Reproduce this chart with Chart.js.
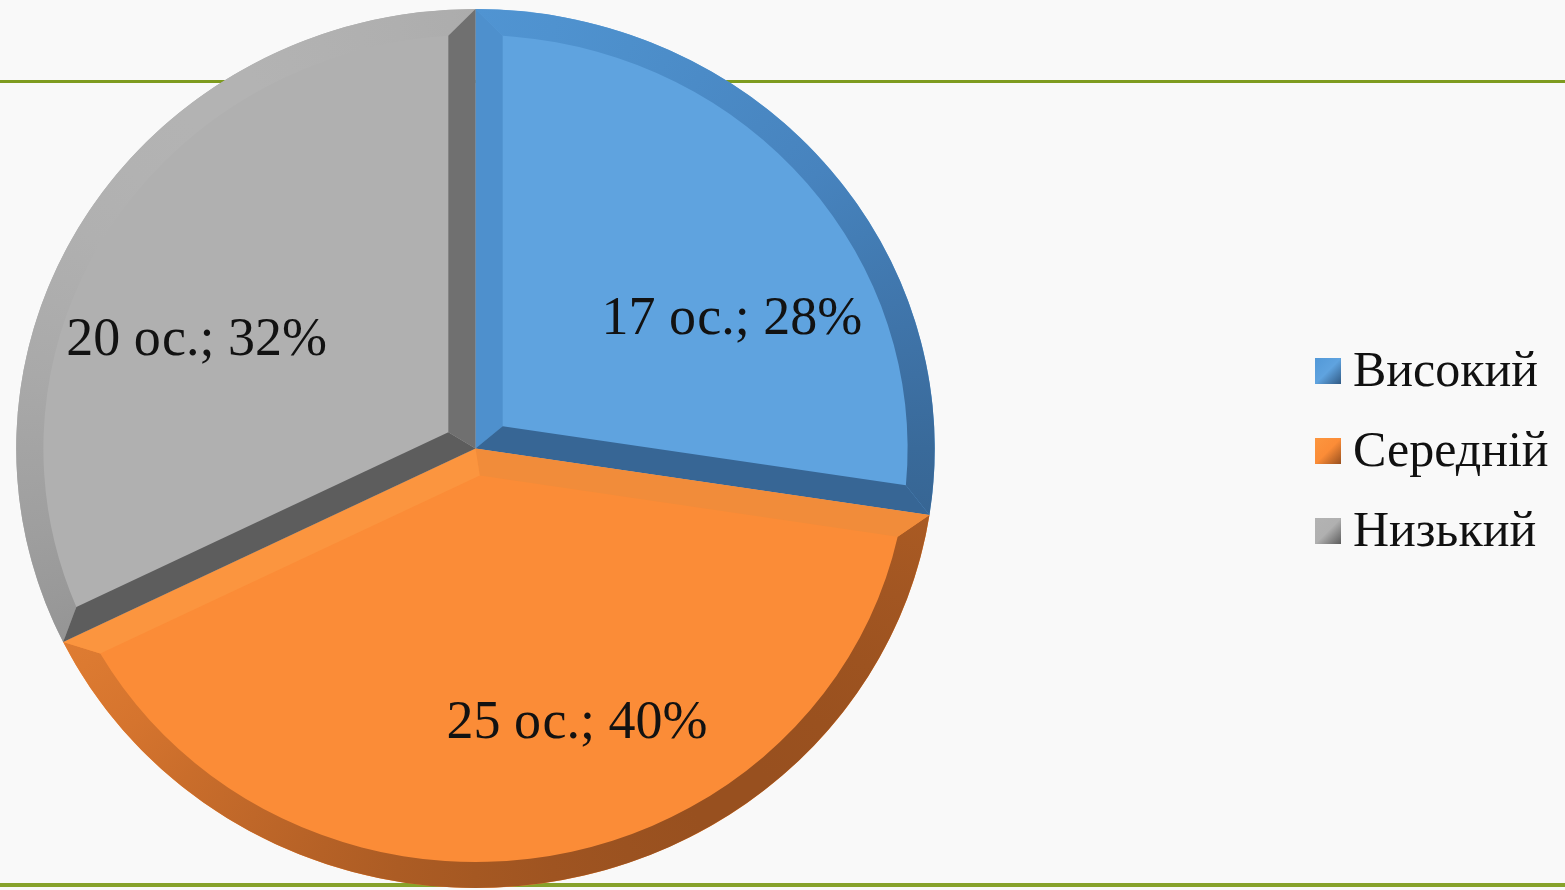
<!DOCTYPE html>
<html>
<head>
<meta charset="utf-8">
<script src="https://cdn.jsdelivr.net/npm/chart.js@4.4.0/dist/chart.umd.min.js"></script>
<style>
  html, body { margin: 0; padding: 0; background: #f9f9f9; }
  #wrap { width: 1565px; height: 890px; }
</style>
</head>
<body>
<div id="wrap"><canvas id="levelChart"></canvas></div>
<script>
// data
const levels = ["Високий", "Середній", "Низький"];
const persons = [17, 25, 20];
const percentLabels = ["28%", "40%", "32%"];
const unit = "ос.";

// face colour and bevel shades (light side, middle, dark side) per slice
const faceColours = ["#5fa3df", "#fb8c37", "#b0b0b0"];
const bevelLight = ["#5399d8", "#fc963f", "#b3b3b3"];
const bevelMid = ["#4682bc", "#d8762f", "#8e8e8e"];
const bevelDark = ["#315a84", "#98501f", "#5c5c5c"];

function hexToRgb(hex) {
  const n = parseInt(hex.slice(1), 16);
  return [(n >> 16) & 255, (n >> 8) & 255, n & 255];
}

function mix(a, b, t) {
  const ca = hexToRgb(a);
  const cb = hexToRgb(b);
  const c = ca.map((v, k) => Math.round(v + (cb[k] - v) * t));
  return `rgb(${c[0]}, ${c[1]}, ${c[2]})`;
}

// light comes from the top left
const light = { x: -0.6, y: -0.8 };

function shade(i, normalAngle) {
  const s = Math.cos(normalAngle) * light.x + Math.sin(normalAngle) * light.y;
  return s >= 0 ? mix(bevelMid[i], bevelLight[i], s) : mix(bevelMid[i], bevelDark[i], -s);
}

const bevelPlugin = {
  id: "bevel",
  beforeDraw(chart) {
    // page background and the two green rules
    const ctx = chart.ctx;
    ctx.save();
    ctx.fillStyle = "#f9f9f9";
    ctx.fillRect(0, 0, chart.width, chart.height);
    ctx.fillStyle = "#7e9b1f";
    ctx.fillRect(0, 80, chart.width, 3);
    ctx.fillStyle = "#86a22b";
    ctx.fillRect(0, 883, chart.width, 4);
    ctx.restore();
  },
  beforeDatasetsDraw(chart, args, opts) {
    const arc = chart.getDatasetMeta(0).data[0];
    const ctx = chart.ctx;
    ctx.save();
    ctx.translate(arc.x, arc.y);
    ctx.scale(opts.stretch, 1);
    ctx.translate(-arc.x, -arc.y);
  },
  afterDatasetsDraw(chart, args, opts) {
    const ctx = chart.ctx;
    const d = opts.depth;
    chart.getDatasetMeta(0).data.forEach((arc, i) => {
      const { x, y, startAngle, endAngle, outerRadius } = arc.getProps(
        ["x", "y", "startAngle", "endAngle", "outerRadius"], true);
      const a0 = startAngle;
      const a1 = endAngle;
      const R = outerRadius;
      const rho = R - d;
      const delta = Math.asin(d / rho);
      const half = (a1 - a0) / 2;
      const apexDist = d / Math.sin(half);
      const pt = (r, a) => [x + r * Math.cos(a), y + r * Math.sin(a)];
      const apex = pt(apexDist, a0 + half);

      // outer rim, shaded by angle
      const grad = ctx.createConicGradient(0, x, y);
      for (let k = 0; k <= 36; k++) {
        const th = (k / 36) * Math.PI * 2;
        grad.addColorStop(k / 36, shade(i, th));
      }
      ctx.beginPath();
      ctx.arc(x, y, R, a0, a1);
      ctx.lineTo(...pt(rho, a1 - delta));
      ctx.arc(x, y, rho, a1 - delta, a0 + delta, true);
      ctx.closePath();
      ctx.fillStyle = grad;
      ctx.fill();

      // start edge
      ctx.beginPath();
      ctx.moveTo(x, y);
      ctx.lineTo(...pt(R, a0));
      ctx.lineTo(...pt(rho, a0 + delta));
      ctx.lineTo(...apex);
      ctx.closePath();
      ctx.fillStyle = shade(i, a0 - Math.PI / 2);
      ctx.fill();

      // end edge
      ctx.beginPath();
      ctx.moveTo(x, y);
      ctx.lineTo(...apex);
      ctx.lineTo(...pt(rho, a1 - delta));
      ctx.lineTo(...pt(R, a1));
      ctx.closePath();
      ctx.fillStyle = shade(i, a1 + Math.PI / 2);
      ctx.fill();
    });
    ctx.restore();
  },
  afterDraw(chart, args, opts) {
    const ctx = chart.ctx;
    ctx.save();
    // value labels inside the slices
    ctx.font = "54px 'Liberation Serif', 'Times New Roman', serif";
    ctx.fillStyle = "#121212";
    ctx.textAlign = "center";
    ctx.textBaseline = "middle";
    chart.getDatasetMeta(0).data.forEach((arc, i) => {
      const { x, y, startAngle, endAngle, outerRadius } = arc.getProps(
        ["x", "y", "startAngle", "endAngle", "outerRadius"], true);
      const a = (startAngle + endAngle) / 2 + (opts.labelShift[i] * Math.PI) / 180;
      const r = outerRadius * opts.labelRadius[i];
      const px = x + r * Math.cos(a) * opts.stretch;
      const py = y + r * Math.sin(a);
      ctx.fillText(`${persons[i]} ${unit}; ${percentLabels[i]}`, px, py);
    });

    // legend on the right
    ctx.textAlign = "left";
    ctx.font = "50px 'Liberation Serif', 'Times New Roman', serif";
    levels.forEach((name, i) => {
      const cy = opts.legendTop + i * opts.legendStep;
      const bx = opts.legendLeft;
      const g = ctx.createLinearGradient(bx, cy - 13, bx + 26, cy + 13);
      g.addColorStop(0, bevelLight[i]);
      g.addColorStop(0.5, faceColours[i]);
      g.addColorStop(1, bevelDark[i]);
      ctx.fillStyle = g;
      ctx.fillRect(bx, cy - 13, 26, 26);
      ctx.fillStyle = "#111111";
      ctx.fillText(name, bx + 38, cy + 2);
    });
    ctx.restore();
  },
};

const levelChart = new Chart(document.querySelector("#levelChart"), {
  type: "pie",
  data: {
    labels: levels,
    datasets: [
      {
        data: persons,
        backgroundColor: faceColours,
        borderWidth: 0,
      },
    ],
  },
  options: {
    responsive: true,
    maintainAspectRatio: false,
    animation: false,
    layout: {
      padding: { left: 36, right: 650, top: 9, bottom: 2 },
    },
    plugins: {
      legend: { display: false },
      tooltip: { enabled: false },
      bevel: {
        stretch: 1.045,
        depth: 26,
        labelShift: [13, -10.7, -9.9],
        labelRadius: [0.63, 0.665, 0.655],
        legendLeft: 1315,
        legendTop: 371,
        legendStep: 80,
      },
    },
  },
  plugins: [bevelPlugin],
});
</script>
</body>
</html>
